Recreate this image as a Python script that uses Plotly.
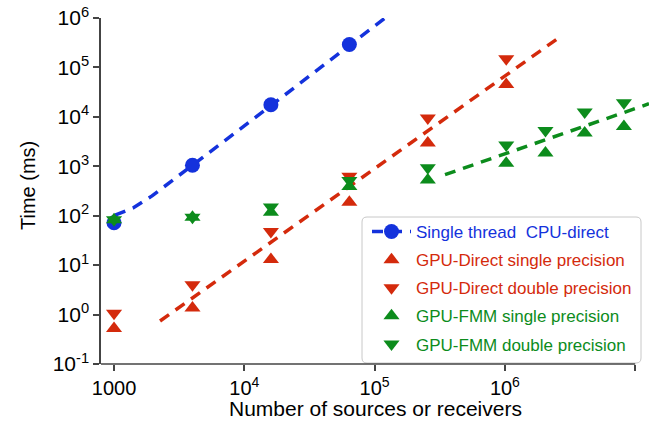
import plotly.graph_objects as go

# ---- data ----
cpu_N = [1000, 4000, 16000, 64000]
cpu_t = [72, 1050, 17600, 290000]
cpu_fit_N = [1018, 1400, 1958, 2736, 4036, 16330, 64700, 124400]
cpu_fit_t = [103, 143, 252, 483, 1070, 17600, 290000, 1070000]

gpu_direct_N = [1000, 4000, 16000, 64000, 256000, 1024000]
gpu_direct_single = [0.52, 1.36, 13, 187, 2950, 45000]
gpu_direct_double = [1.06, 4.0, 48, 630, 9500, 150000]
gpu_direct_fit_N = [2255, 2490000]
gpu_direct_fit_t = [0.74, 370000]

gpu_fmm_N = [1000, 4000, 16000, 64000, 256000, 1024000, 2048000, 4096000, 8192000]
gpu_fmm_single = [83, 93, 117, 390, 525, 1150, 1850, 4700, 6400]
gpu_fmm_double = [83, 93, 150, 515, 930, 2700, 5300, 12600, 19300]
gpu_fmm_fit_N = [347000, 12760000]
gpu_fmm_fit_t = [676, 18400]

x_tickvals = [1000, 1e4, 1e5, 1e6, 1e7]
x_ticktext = ["1000", "10<sup>4</sup>", "10<sup>5</sup>", "10<sup>6</sup>", "10<sup>7</sup>"]
y_tickvals = [1e-1, 1, 10, 100, 1e3, 1e4, 1e5, 1e6]
y_ticktext = ["10<sup>-1</sup>", "10<sup>0</sup>", "10<sup>1</sup>", "10<sup>2</sup>",
              "10<sup>3</sup>", "10<sup>4</sup>", "10<sup>5</sup>", "10<sup>6</sup>"]

BLUE = "#1432dc"
RED = "#d42a0c"
GREEN = "#0c8c1c"
DASH = "11px,8px"
MS = 14

fig = go.Figure()

# legend entry for CPU (line + marker)
fig.add_trace(go.Scatter(x=[None], y=[None], mode="lines+markers", legendgroup="a",
                         name='<span style="color:%s">Single thread\u00a0 CPU-direct</span>' % BLUE,
                         line=dict(color=BLUE, width=3.5, dash=DASH),
                         marker=dict(symbol="circle", size=15, color=BLUE)))

# fit lines
fig.add_trace(go.Scatter(x=cpu_fit_N, y=cpu_fit_t, mode="lines", showlegend=False,
                         line=dict(color=BLUE, width=3.5, dash=DASH)))
fig.add_trace(go.Scatter(x=gpu_direct_fit_N, y=gpu_direct_fit_t, mode="lines", showlegend=False,
                         line=dict(color=RED, width=3.5, dash=DASH)))
fig.add_trace(go.Scatter(x=gpu_fmm_fit_N, y=gpu_fmm_fit_t, mode="lines", showlegend=False,
                         line=dict(color=GREEN, width=3.5, dash=DASH)))

# points
fig.add_trace(go.Scatter(x=cpu_N, y=cpu_t, mode="markers", showlegend=False,
                         marker=dict(symbol="circle", size=15, color=BLUE)))
fig.add_trace(go.Scatter(x=gpu_direct_N, y=gpu_direct_single, mode="markers", legendgroup="b",
                         name='<span style="color:%s">GPU-Direct single precision</span>' % RED,
                         marker=dict(symbol="triangle-up", size=MS, color=RED)))
fig.add_trace(go.Scatter(x=gpu_direct_N, y=gpu_direct_double, mode="markers", legendgroup="c",
                         name='<span style="color:%s">GPU-Direct double precision</span>' % RED,
                         marker=dict(symbol="triangle-down", size=MS, color=RED)))
fig.add_trace(go.Scatter(x=gpu_fmm_N, y=gpu_fmm_single, mode="markers", legendgroup="d",
                         name='<span style="color:%s">GPU-FMM single precision</span>' % GREEN,
                         marker=dict(symbol="triangle-up", size=MS, color=GREEN)))
fig.add_trace(go.Scatter(x=gpu_fmm_N, y=gpu_fmm_double, mode="markers", legendgroup="e",
                         name='<span style="color:%s">GPU-FMM double precision</span>' % GREEN,
                         marker=dict(symbol="triangle-down", size=MS, color=GREEN)))

x_lo, x_hi = 2.9, 7.106
L, T, B = 101, 18, 57
PW, PH = 649 - L, 421 - T - B

def px(xp):
    return (xp - L) / PW

def py(yp):
    return (421 - B - yp) / PH

# rounded legend frame
bx0, bx1, by0, by1 = px(362), px(641), py(363), py(217)
rx, ry = 5 / PW, 5 / PH
frame = ("M {a},{t} L {b},{t} Q {x1},{t} {x1},{c} L {x1},{d} Q {x1},{bt} {b},{bt} "
         "L {a},{bt} Q {x0},{bt} {x0},{d} L {x0},{c} Q {x0},{t} {a},{t} Z").format(
    a=bx0 + rx, b=bx1 - rx, t=by1, bt=by0, x0=bx0, x1=bx1, c=by1 - ry, d=by0 + ry)

fig.update_layout(
    width=649, height=421,
    margin=dict(l=L, r=0, t=T, b=B),
    paper_bgcolor="white", plot_bgcolor="white",
    font=dict(family="Liberation Sans, Arial, sans-serif", color="black", size=20),
    xaxis=dict(type="log", range=[x_lo, x_hi], showgrid=False, zeroline=False, automargin=False,
               showline=False, ticks="outside", ticklen=6, tickcolor="#444", tickwidth=1.5,
               tickvals=x_tickvals, ticktext=x_ticktext, tickfont=dict(size=20)),
    yaxis=dict(type="log", range=[-1, 6], showgrid=False, zeroline=False, automargin=False,
               showline=True, linecolor="#444", linewidth=1.5,
               ticks="outside", ticklen=6, tickcolor="#444", tickwidth=1.5,
               tickvals=y_tickvals, ticktext=y_ticktext, tickfont=dict(size=21)),
    legend=dict(x=px(367), y=py(214), xanchor="left", yanchor="top",
                bgcolor="rgba(0,0,0,0)", borderwidth=0,
                traceorder="grouped", tracegroupgap=3,
                font=dict(size=17), itemwidth=39),
    shapes=[dict(type="line", xref="paper", yref="paper",
                 x0=0, x1=(7 - x_lo) / (x_hi - x_lo), y0=0, y1=0,
                 line=dict(color="#444", width=1.5)),
            dict(type="path", xref="paper", yref="paper", path=frame, layer="below",
                 fillcolor="white", line=dict(color="#c8c8c8", width=1))],
    annotations=[
        dict(text="Number of sources or receivers", xref="paper", yref="paper",
             x=px(375), y=py(408), xanchor="center", yanchor="middle",
             showarrow=False, font=dict(size=21)),
        dict(text="Time (ms)", xref="paper", yref="paper", textangle=-90,
             x=px(28), y=py(186), xanchor="center", yanchor="middle",
             showarrow=False, font=dict(size=20)),
    ],
)

fig.write_html("out.html", config={"displayModeBar": False},
               post_script="document.body.style.margin='0';document.body.style.padding='0';")
